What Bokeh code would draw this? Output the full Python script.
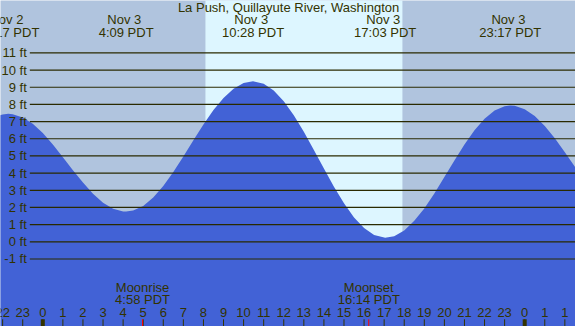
from bokeh.plotting import figure
from bokeh.models import Range1d
from bokeh.embed import file_html
from bokeh.resources import INLINE
from bokeh.core.properties import value

title_text = "La Push, Quillayute River, Washington"

# Tide height (ft); hours counted from Nov 3 00:00 PDT
tide_hours = [-2.5, -2.0, -1.72, -1.5, -1.0, -0.5, 0.0, 0.5, 1.0, 1.5, 2.0, 2.5,
              3.0, 3.5, 4.0, 4.15, 4.5, 5.0, 5.5, 6.0, 6.5, 7.0, 7.5, 8.0, 8.5,
              9.0, 9.5, 10.0, 10.47, 11.0, 11.5, 12.0, 12.5, 13.0, 13.5, 14.0,
              14.5, 15.0, 15.5, 16.0, 16.5, 17.05, 17.5, 18.0, 18.5, 19.0, 19.5,
              20.0, 20.5, 21.0, 21.5, 22.0, 22.5, 23.0, 23.28, 23.5, 24.0, 24.5,
              25.0, 25.5, 26.0, 26.5, 27.0]
tide_feet = [7.20, 7.42, 7.45, 7.43, 7.24, 6.87, 6.33, 5.67, 4.93, 4.17, 3.45, 2.80,
             2.28, 1.93, 1.77, 1.76, 1.82, 2.09, 2.58, 3.25, 4.07, 4.97, 5.91, 6.83, 7.67,
             8.38, 8.91, 9.25, 9.35, 9.20, 8.81, 8.19, 7.37, 6.41, 5.35, 4.27,
             3.21, 2.25, 1.42, 0.80, 0.39, 0.23, 0.33, 0.66, 1.22, 1.94, 2.82,
             3.77, 4.73, 5.66, 6.49, 7.16, 7.65, 7.90, 7.94, 7.92, 7.72, 7.32,
             6.75, 6.03, 5.22, 4.37, 3.52]

# High / low tide events
ext_hours = [-1.72, 4.15, 10.47, 17.05, 23.28]
ext_dates = ["Nov  2", "Nov  3", "Nov  3", "Nov  3", "Nov  3"]
ext_times = ["22:17 PDT", "4:09 PDT", "10:28 PDT", "17:03 PDT", "23:17 PDT"]

# Sun (daylight band)
sunrise_hour = 8.10
sunset_hour = 17.91

# Moon events
moon_hours = [4.967, 16.233]
moon_events = ["Moonrise", "Moonset"]
moon_times = ["4:58 PDT", "16:14 PDT"]

# Height levels
ft_levels = [-1, 0, 1, 2, 3, 4, 5, 6, 7, 8, 9, 10, 11]
ft_labels = ["-1 ft", "0 ft", "1 ft", "2 ft", "3 ft", "4 ft", "5 ft", "6 ft",
             "7 ft", "8 ft", "9 ft", "10 ft", "11 ft"]

# Hour ticks
hour_ticks = list(range(-2, 27))
hour_labels = ["22", "23", "0", "1", "2", "3", "4", "5", "6", "7", "8", "9", "10",
               "11", "12", "13", "14", "15", "16", "17", "18", "19", "20", "21",
               "22", "23", "0", "1", "1"]
midnight_hours = [0, 24]

X0, X1 = -2.107, 26.53
Y0, Y1 = -4.93, 14.05

TXT = "#333300"
FONT = value("Liberation Sans")
FS = "13px"

p = figure(width=575, height=326, x_range=Range1d(X0, X1), y_range=Range1d(Y0, Y1),
           output_backend="svg", toolbar_location=None, min_border=0,
           x_axis_location=None, y_axis_location=None,
           background_fill_color="#b0c4de", border_fill_color="#b0c4de")
p.grid.visible = False
p.outline_line_color = None

# daylight
p.quad(left=[sunrise_hour], right=[sunset_hour], bottom=[Y0 - 2], top=[Y1 + 2],
       fill_color="#ddf6ff", line_color=None)

# water
p.varea(x=tide_hours, y1=Y0 - 2, y2=tide_feet, fill_color="#4262d6")

# gridlines
p.segment(x0=-0.647, x1=X1 + 1, y0=ft_levels, y1=ft_levels, line_color="#2a2a00", line_width=1.2)
p.text(x=-0.80, y=ft_levels, text=ft_labels, text_align="right", text_baseline="middle",
       text_font=FONT, text_font_size=FS, text_color=TXT)

# title
p.text(x=[12.24], y=[13.62], text=[title_text], text_align="center", text_baseline="middle",
       text_font=FONT, text_font_size=FS, text_color=TXT)

# tide event labels
p.text(x=ext_hours, y=12.93, text=ext_dates, text_align="center", text_baseline="middle",
       text_font=FONT, text_font_size=FS, text_color=TXT)
p.text(x=ext_hours, y=12.21, text=ext_times, text_align="center", text_baseline="middle",
       text_font=FONT, text_font_size=FS, text_color=TXT)

# moon labels
p.text(x=moon_hours, y=-2.68, text=moon_events, text_align="center", text_baseline="middle",
       text_font=FONT, text_font_size=FS, text_color=TXT)
p.text(x=moon_hours, y=-3.38, text=moon_times, text_align="center", text_baseline="middle",
       text_font=FONT, text_font_size=FS, text_color=TXT)

# hour ticks and labels
p.segment(x0=hour_ticks, x1=hour_ticks, y0=-4.51, y1=Y0 - 1, line_color=TXT, line_width=1)
p.segment(x0=midnight_hours, x1=midnight_hours, y0=-4.51, y1=Y0 - 1, line_color=TXT, line_width=4)
p.segment(x0=moon_hours, x1=moon_hours, y0=-4.51, y1=Y0 - 1, line_color="red", line_width=1)
p.text(x=hour_ticks, y=-4.10, text=hour_labels, text_align="center", text_baseline="middle",
       text_font=FONT, text_font_size=FS, text_color=TXT)

open("out.html", "w").write(file_html(p, INLINE))
